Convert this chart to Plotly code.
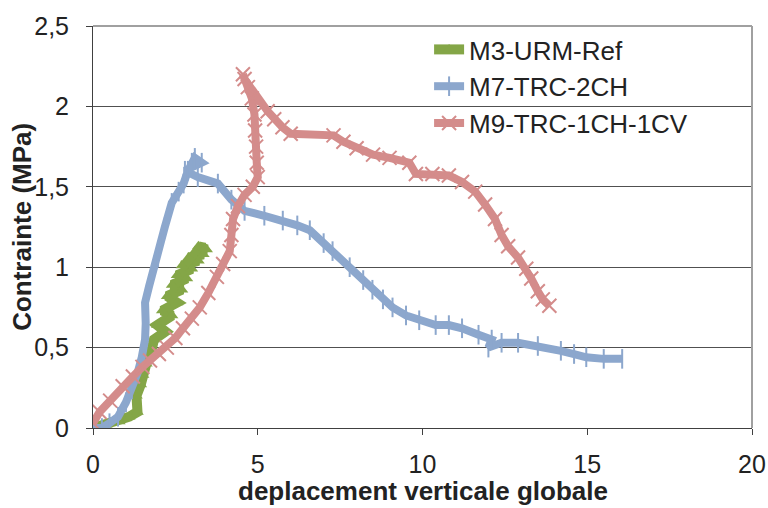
import plotly.graph_objects as go

# M3-URM-Ref
m3_x = [0, 0.4, 0.8, 1.1, 1.35, 1.32, 1.45, 1.52, 1.62, 1.75, 1.85, 2.2, 1.95, 2.4, 2.1, 2.55, 2.25, 2.7, 2.4, 2.85, 2.55, 3.0, 2.7, 3.2, 2.9, 3.35, 3.1, 3.45, 3.2, 3.4]
m3_y = [0, 0.02, 0.04, 0.07, 0.1, 0.2, 0.27, 0.33, 0.4, 0.46, 0.55, 0.6, 0.64, 0.7, 0.73, 0.78, 0.82, 0.86, 0.89, 0.93, 0.95, 0.99, 1.01, 1.04, 1.06, 1.08, 1.1, 1.11, 1.13, 1.12]

# M7-TRC-2CH
m7_x = [0, 0.27, 0.5, 0.76, 1.0, 1.18, 1.35, 1.48, 1.58, 1.6, 1.58, 1.7, 1.79, 1.97, 2.05, 2.18, 2.39, 2.6, 2.75, 2.88, 3.0, 3.09, 3.3, 2.79, 3.18, 3.79, 4.2, 4.6, 5.2, 5.76, 6.2, 6.58, 7.0, 7.27, 7.79, 8.2, 8.48, 8.8, 9.09, 9.5, 9.9, 10.4, 10.8, 11.2, 11.7, 12.1, 12.0, 12.4, 12.9, 13.5, 14.2, 14.6, 14.97, 15.5, 16.06]
m7_y = [0, 0.0, 0.03, 0.07, 0.16, 0.24, 0.34, 0.44, 0.55, 0.65, 0.78, 0.88, 0.94, 1.06, 1.15, 1.25, 1.4, 1.47, 1.52, 1.6, 1.65, 1.68, 1.65, 1.6, 1.56, 1.52, 1.42, 1.35, 1.32, 1.29, 1.26, 1.23, 1.15, 1.1, 1.0, 0.92, 0.86, 0.8, 0.75, 0.7, 0.67, 0.64, 0.64, 0.62, 0.58, 0.55, 0.5, 0.53, 0.53, 0.51, 0.48, 0.46, 0.44, 0.43, 0.43]

# M9-TRC-1CH-1CV
m9_x = [0, 0.2, 0.52, 0.9, 1.21, 1.5, 1.73, 2.0, 2.24, 2.5, 2.73, 3.0, 3.24, 3.5, 3.76, 3.95, 4.15, 4.2, 4.25, 4.4, 4.6, 4.85, 5.0, 4.97, 4.95, 4.92, 4.9, 4.82, 4.7, 4.55, 4.6, 5.3, 5.5, 5.75, 6.0, 7.3, 7.6, 8.0, 8.5, 9.0, 9.6, 9.8, 10.3, 10.8, 11.2, 11.6, 11.9, 12.2, 12.4, 12.6, 12.9, 13.15, 13.3, 13.5, 13.65, 13.85]
m9_y = [0.03, 0.1, 0.17, 0.26, 0.32, 0.38, 0.42, 0.46, 0.5, 0.56, 0.62, 0.68, 0.75, 0.84, 0.94, 1.02, 1.1, 1.2, 1.3, 1.38, 1.45, 1.5, 1.56, 1.65, 1.75, 1.85, 1.95, 2.05, 2.12, 2.2, 2.17, 1.97, 1.92, 1.87, 1.83, 1.82, 1.78, 1.74, 1.7, 1.68, 1.65, 1.58, 1.58, 1.57, 1.53, 1.47, 1.39, 1.3, 1.2, 1.13, 1.06, 0.99, 0.93, 0.85, 0.8, 0.76]

x_ticks = [0, 5, 10, 15, 20]
y_ticks = [0, 0.5, 1, 1.5, 2, 2.5]

GREEN = "#84A647"
BLUE = "#8CA7CD"
RED = "#D48C8B"

fig = go.Figure()
fig.add_trace(go.Scatter(x=m3_x, y=m3_y, name="M3-URM-Ref", mode="lines+markers",
                         line=dict(color=GREEN, width=10),
                         marker=dict(symbol="triangle-up", size=11, color=GREEN)))
fig.add_trace(go.Scatter(x=m7_x, y=m7_y, name="M7-TRC-2CH", mode="lines+markers",
                         line=dict(color=BLUE, width=8),
                         marker=dict(symbol="line-ns", size=14, color=BLUE,
                                     line=dict(color=BLUE, width=2))))
fig.add_trace(go.Scatter(x=m9_x, y=m9_y, name="M9-TRC-1CH-1CV", mode="lines+markers",
                         line=dict(color=RED, width=8),
                         marker=dict(symbol="x-thin", size=14, color=RED,
                                     line=dict(color=RED, width=2))))

# white legend box (covers gridlines, below traces)
fig.add_shape(type="rect", xref="paper", yref="paper", x0=0.453, x1=0.963, y0=0.66, y1=1,
              fillcolor="white", line=dict(width=0), layer="between")
# top and right gray borders
fig.add_shape(type="line", xref="paper", yref="paper", x0=0, x1=1, y0=1, y1=1,
              line=dict(color="#A0A0A0", width=2))
fig.add_shape(type="line", xref="paper", yref="paper", x0=1, x1=1, y0=0, y1=1,
              line=dict(color="#A0A0A0", width=2))

# axis titles
fig.add_annotation(text="<b>deplacement verticale globale</b>", xref="paper", yref="paper",
                   x=0.5, y=-0.157, xanchor="center", yanchor="middle", showarrow=False,
                   font=dict(size=26, color="#222222"))
fig.add_annotation(text="<b>Contrainte (MPa)</b>", xref="paper", yref="paper",
                   x=-0.108, y=0.5, xanchor="center", yanchor="middle", showarrow=False,
                   textangle=-90, font=dict(size=26, color="#222222"))

font_family = "Liberation Sans, Arial, sans-serif"
fig.update_layout(
    width=768, height=508,
    margin=dict(l=93, r=16, t=26, b=80),
    paper_bgcolor="white", plot_bgcolor="white",
    separators=", ",
    font=dict(family=font_family, size=25, color="#222222"),
    showlegend=True,
    legend=dict(x=0.51, y=1.0, xanchor="left", yanchor="top",
                bgcolor="rgba(0,0,0,0)", font=dict(size=26, color="#222222"),
                tracegroupgap=0),
    xaxis=dict(range=[0, 20], tickvals=x_ticks, showgrid=False, zeroline=False,
               showline=True, linecolor="#404040", linewidth=1, automargin=False,
               ticks="outside", ticklen=6, tickcolor="#404040", ticklabelstandoff=8,
               tickfont=dict(size=25)),
    yaxis=dict(range=[0, 2.5], tickvals=y_ticks, showgrid=True, gridcolor="#505050", gridwidth=1,
               zeroline=False, showline=True, linecolor="#404040", linewidth=1, automargin=False,
               ticks="outside", ticklen=6, tickcolor="#404040", ticklabelstandoff=12,
               tickfont=dict(size=25)),
)

fig.write_html("out.html", config={"displayModeBar": False},
               post_script="document.body.style.margin='0';")
